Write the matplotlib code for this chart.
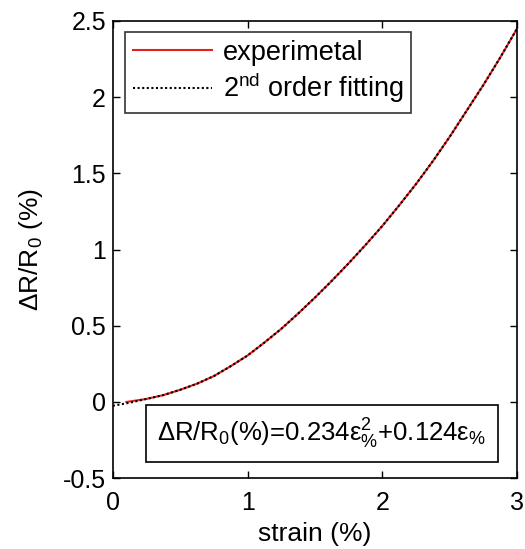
# strain vs resistance change, with 2nd order fit
import matplotlib
matplotlib.use("Agg")
import matplotlib.pyplot as plt

plt.rcParams["font.family"] = ["Liberation Sans", "DejaVu Sans"]
plt.rcParams["mathtext.fontset"] = "custom"
plt.rcParams["mathtext.rm"] = "Liberation Sans"
plt.rcParams["mathtext.it"] = "Liberation Sans:italic"
plt.rcParams["mathtext.default"] = "regular"

# Data
strain_exp = [0.1, 0.25, 0.375, 0.5, 0.625, 0.75, 0.875, 1.0, 1.125, 1.25, 1.375,
              1.5, 1.625, 1.75, 1.875, 2.0, 2.125, 2.25, 2.375, 2.5, 2.625,
              2.75, 2.875, 3.0]
dr_exp = [0.0, 0.02, 0.045, 0.08, 0.12, 0.17, 0.235, 0.305, 0.39, 0.48, 0.58,
          0.685, 0.795, 0.91, 1.03, 1.155, 1.29, 1.43, 1.58, 1.74, 1.91,
          2.08, 2.26, 2.45]

strain_fit = [0.0, 0.125, 0.25, 0.375, 0.5, 0.625, 0.75, 0.875, 1.0, 1.125, 1.25,
              1.375, 1.5, 1.625, 1.75, 1.875, 2.0, 2.125, 2.25, 2.375, 2.5,
              2.625, 2.75, 2.875, 3.0]
dr_fit = [-0.025, -0.005, 0.02, 0.045, 0.08, 0.12, 0.17, 0.235, 0.305, 0.39, 0.48,
          0.58, 0.685, 0.795, 0.91, 1.03, 1.155, 1.29, 1.43, 1.58, 1.74,
          1.91, 2.08, 2.26, 2.45]

x_ticks = [0, 1, 2, 3]
y_ticks = [-0.5, 0, 0.5, 1, 1.5, 2, 2.5]
y_ticklabels = ["-0.5", "0", "0.5", "1", "1.5", "2", "2.5"]

fig = plt.figure(figsize=(5.25, 5.49), dpi=100)
ax = fig.add_axes([0.215, 0.129, 0.77, 0.833])

ax.plot(strain_exp, dr_exp, color="#e3221f", lw=1.5, label="experimetal")
ax.plot(strain_fit, dr_fit, color="black", lw=1.5, ls=(0, (1, 1.2)),
        label="2$^{nd}$ order fitting")

ax.set_xlim(0, 3)
ax.set_ylim(-0.5, 2.5)
ax.set_xticks(x_ticks)
ax.set_xticklabels([str(t) for t in x_ticks])
ax.set_yticks(y_ticks)
ax.set_yticklabels(y_ticklabels)
ax.tick_params(direction="in", length=5, width=1, labelsize=18,
               top=True, right=True)
ax.tick_params(axis="x", pad=9)
ax.tick_params(axis="y", pad=5)
for s in ax.spines.values():
    s.set_linewidth(1.2)

ax.set_xlabel("strain (%)", fontsize=19, labelpad=5)
ax.set_ylabel(r"$\Delta R/R_0$ (%)", fontsize=19, labelpad=13)

leg = ax.legend(loc="upper left", bbox_to_anchor=(0.03, 0.976), borderaxespad=0,
                fontsize=19.5, frameon=True, fancybox=False, edgecolor="black",
                handlelength=2.9, handletextpad=0.4, borderpad=0.3,
                labelspacing=0.18)
leg.get_frame().set_linewidth(1.2)

ax.text(0.517, 0.097, r"$\Delta R/R_0$(%)=0.234$\varepsilon^2_{\%}$+0.124$\varepsilon_{\%}$",
        transform=ax.transAxes, ha="center", va="center", fontsize=18.5,
        bbox=dict(boxstyle="square,pad=0.45", fc="white", ec="black", lw=1.2))

fig.savefig("out.png", dpi=100)
